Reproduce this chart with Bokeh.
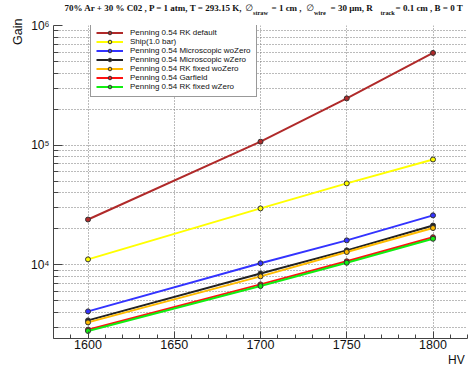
import math
from bokeh.plotting import figure
from bokeh.layouts import column, row
from bokeh.models import (FixedTicker, Label, Legend, LegendItem, Range1d,
                          CustomJSTickFormatter)
from bokeh.embed import file_html
from bokeh.resources import INLINE

# ---------------- data ----------------
hv = [1600, 1700, 1750, 1800]
rk_default = [23900, 107000, 246000, 590000]
ship = [11100, 29600, 47900, 75900]
micro_wo_zero = [4080, 10300, 16000, 25900]
micro_w_zero = [3430, 8470, 13200, 21300]
rk_fixed_wo_zero = [3300, 8000, 12800, 20300]
garfield = [2870, 6860, 10700, 17000]
rk_fixed_w_zero = [2800, 6640, 10400, 16500]

series_labels = ["Penning 0.54 RK default", "Ship(1.0 bar)",
                 "Penning 0.54 Microscopic woZero", "Penning 0.54 Microscopic wZero",
                 "Penning 0.54 RK fixed woZero", "Penning 0.54 Garfield",
                 "Penning 0.54 RK fixed wZero"]
series_values = [rk_default, ship, micro_wo_zero, micro_w_zero,
                 rk_fixed_wo_zero, garfield, rk_fixed_w_zero]
series_colors = ["#b02a2a", "#ffff00", "#3333ff", "#222222",
                 "#ffbb00", "#ff1111", "#11ee11"]

x_major = [1600, 1650, 1700, 1750, 1800]
y_major = [1e4, 1e5, 1e6]

TOTAL_W, TOTAL_H = 468, 366
TH = 17          # title strip height
LW = 24          # left strip width (holds "Gain")
BH = 12          # bottom strip height (holds "HV")


def strip(w, h):
    f = figure(width=w, height=h, output_backend="svg", toolbar_location=None,
               x_axis_location=None, y_axis_location=None,
               x_range=Range1d(0, w), y_range=Range1d(0, h),
               min_border=0, min_border_left=0, min_border_right=0,
               min_border_top=0, min_border_bottom=0)
    f.grid.visible = False
    f.outline_line_color = None
    f.border_fill_color = "white"
    f.background_fill_color = "white"
    return f


# ---------------- title strip ----------------
tfig = strip(TOTAL_W, TH)
title_parts = [
    (64, "70% Ar + 30 % C02 , P = 1 atm, T = 293.15 K,", "main"),
    (245, "\u2205", "sym"),
    (252.5, "straw", "sub"),
    (271, "= 1 cm ,", "main"),
    (306, "\u2205", "sym"),
    (313.5, "wire", "sub"),
    (330, "= 30  \u00b5m, R", "main"),
    (380, "track", "sub"),
    (395, "= 0.1 cm , B = 0 T", "main"),
]
for px, txt, kind in title_parts:
    if kind == "main":
        font, size, base, style = "Liberation Serif", "9px", 7.2, "bold"
    elif kind == "sym":
        font, size, base, style = "DejaVu Sans", "9px", 7.2, "normal"
    else:
        font, size, base, style = "Liberation Serif", "6.3px", 12.3, "bold"
    tfig.add_layout(Label(x=px, y=TH - base, text=txt, text_font=font,
                          text_font_size=size, text_font_style=style,
                          text_color="#111111", text_align="left",
                          text_baseline="alphabetic"))

# ---------------- left strip ("Gain") ----------------
LH = TOTAL_H - TH
lfig = strip(LW, LH)
lfig.add_layout(Label(x=17.5, y=LH - (18 - TH), text="Gain", angle=math.pi / 2,
                      text_font="Liberation Sans", text_font_size="12.5px",
                      text_color="#111111", text_align="right",
                      text_baseline="alphabetic"))

# ---------------- main figure ----------------
MW = TOTAL_W - LW
MH = TOTAL_H - TH - BH
p = figure(width=MW, height=MH, output_backend="svg", toolbar_location=None,
           y_axis_type="log",
           x_range=Range1d(1580, 1820), y_range=Range1d(10 ** 3.384, 1e6),
           min_border_left=53 - LW, min_border_right=1,
           min_border_top=25 - TH, min_border_bottom=(TOTAL_H - BH) - 338)
p.outline_line_color = None
p.background_fill_color = "white"
p.border_fill_color = "white"

x_minor = [v for v in range(1580, 1821, 10) if v not in x_major]
p.xaxis.ticker = FixedTicker(ticks=x_major, minor_ticks=x_minor)
y_minor = [k * 10 ** e for e in (3, 4, 5) for k in range(2, 10) if k * 10 ** e > 2420]
p.yaxis.ticker = FixedTicker(ticks=y_major, minor_ticks=y_minor)

for ax in (p.xaxis[0], p.yaxis[0]):
    ax.axis_line_color = "#444444"
    ax.axis_line_width = 1
    ax.major_tick_line_color = "#444444"
    ax.minor_tick_line_color = "#444444"
    ax.major_tick_out = 0
    ax.minor_tick_out = 0
    ax.major_label_text_font = "Liberation Sans"
    ax.major_label_text_color = "#111111"
p.xaxis.major_tick_in = 7
p.xaxis.minor_tick_in = 4
p.yaxis.major_tick_in = 9
p.yaxis.minor_tick_in = 5
p.xaxis.major_label_text_font_size = "12.5px"
p.xaxis.major_label_standoff = 1
p.yaxis.major_label_text_font_size = "12px"
p.yaxis.major_label_standoff = 4
p.yaxis.formatter = CustomJSTickFormatter(code="""
const sup = {"0": "\u2070", "1": "\u00b9", "2": "\u00b2", "3": "\u00b3", "4": "\u2074",
             "5": "\u2075", "6": "\u2076", "7": "\u2077", "8": "\u2078", "9": "\u2079"};
const e = String(Math.round(Math.log10(tick)));
return "10" + e.split("").map(c => sup[c]).join("");
""")

p.xgrid.ticker = FixedTicker(ticks=x_major)
p.xgrid.grid_line_color = "#777777"
p.xgrid.grid_line_dash = "1 2"
p.ygrid.grid_line_color = "#777777"
p.ygrid.grid_line_dash = "1 2"
p.ygrid.minor_grid_line_color = "#777777"
p.ygrid.minor_grid_line_dash = "1 2"

# ---------------- data lines ----------------
items = []
for lab, vals, col in zip(series_labels, series_values, series_colors):
    lr = p.line(hv, vals, line_color=col, line_width=2)
    sr = p.scatter(hv, vals, size=5, fill_color=col, line_color="#333333", line_width=1)
    items.append(LegendItem(label=lab, renderers=[lr, sr]))

# ---------------- legend ----------------
legend = Legend(items=items, location=(90 - 53, 338 - 97),
                border_line_color="#333333", border_line_width=1,
                background_fill_color="white", background_fill_alpha=1.0,
                padding=5, margin=0, spacing=0,
                label_text_font="Liberation Sans", label_text_font_size="8px",
                label_text_color="#111111",
                label_height=9, glyph_height=9, glyph_width=27, label_standoff=7,
                label_text_baseline="middle")
p.add_layout(legend, "center")

# ---------------- bottom strip ("HV") ----------------
bfig = strip(MW, BH)
bfig.add_layout(Label(x=465 - LW, y=BH - (359.3 - (TOTAL_H - BH)), text="HV",
                      text_font="Liberation Sans", text_font_size="12px",
                      text_color="#111111", text_align="right",
                      text_baseline="alphabetic"))

layout = column(tfig, row(lfig, column(p, bfig, spacing=0), spacing=0), spacing=0)
open("out.html", "w").write(file_html(layout, INLINE))
